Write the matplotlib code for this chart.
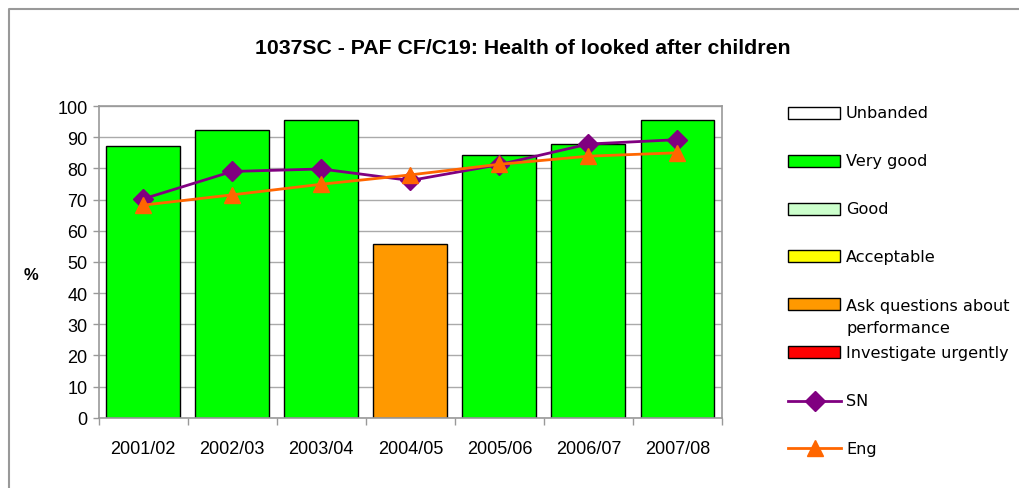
import matplotlib
matplotlib.use("Agg")
import matplotlib.pyplot as plt
from matplotlib.patches import Rectangle
from matplotlib.lines import Line2D

years = ["2001/02", "2002/03", "2003/04", "2004/05", "2005/06", "2006/07", "2007/08"]
values = [87.1, 92.2, 95.4, 55.8, 84.4, 87.7, 95.6]
bands = ["Very good", "Very good", "Very good", "Ask questions about\nperformance",
         "Very good", "Very good", "Very good"]
sn = [70.2, 79.0, 79.8, 76.1, 81.2, 87.8, 89.2]
eng = [68.2, 71.5, 74.9, 77.9, 81.3, 83.9, 85.0]

band_names = ["Unbanded", "Very good", "Good", "Acceptable",
              "Ask questions about\nperformance", "Investigate urgently"]
band_colors = ["#FFFFFF", "#00FF00", "#CCFFCC", "#FFFF00", "#FF9900", "#FF0000"]
color_of = dict(zip(band_names, band_colors))

W, H = 1020, 489
fig = plt.figure(figsize=(W / 100, H / 100), dpi=100)
fig.patch.set_facecolor("white")

def fx(px):
    return px / W

def fy(py):
    return 1 - py / H

ax = fig.add_axes([fx(98.7), fy(418.7), fx(722 - 98.7), (418.7 - 107) / H])
x = list(range(len(years)))
ax.bar(x, values, width=0.83, color=[color_of[b] for b in bands],
       edgecolor="black", linewidth=1.0, zorder=2)
ax.plot(x, sn, color="#800080", lw=2, marker="D", ms=10, zorder=3)
ax.plot(x, eng, color="#FF6600", lw=2, marker="^", ms=12, zorder=4)

ax.set_xlim(-0.5, len(years) - 0.5)
ax.set_ylim(0, 100)
ax.set_yticks(range(0, 101, 10))
ax.set_xticks(x)
ax.set_xticklabels(years)
ax.set_xticks([i + 0.5 for i in range(-1, len(years))], minor=True)
ax.tick_params(axis="x", which="major", length=0, pad=16)
ax.tick_params(axis="x", which="minor", length=5, color="#999999", width=1)
ax.tick_params(axis="y", length=4, color="#999999", width=1, pad=4)
for lab in ax.get_xticklabels() + ax.get_yticklabels():
    lab.set_fontfamily("Liberation Sans")
    lab.set_fontsize(13)
ax.grid(axis="y", color="#AAAAAA", lw=1, zorder=0)
ax.set_axisbelow(True)
for s in ax.spines.values():
    s.set_color("#999999")
    s.set_linewidth(1.2)

fig.text(fx(523), fy(48), "1037SC - PAF CF/C19: Health of looked after children",
         ha="center", va="center", fontsize=15.3, fontweight="bold",
         family="Liberation Sans")
fig.text(fx(31), fy(275), "%", ha="center", va="center", fontsize=12,
         fontweight="bold", family="Liberation Sans")

# Legend
leg_y = [113.5, 161.7, 209.5, 257.3, 305.3, 353.3]
for name, col, yy in zip(band_names, band_colors, leg_y):
    fig.add_artist(Rectangle((fx(788), fy(yy + 6)), fx(840 - 788), 12 / H,
                             facecolor=col, edgecolor="black", lw=1,
                             transform=fig.transFigure))
    if "\n" in name:
        fig.text(fx(846), fy(yy - 6), name, ha="left", va="top",
                 fontsize=11.6, family="DejaVu Sans", linespacing=1.6)
    else:
        fig.text(fx(846), fy(yy), name, ha="left", va="center",
                 fontsize=11.6, family="DejaVu Sans")
for yy, col, mk, ms, name in [(401.7, "#800080", "D", 10, "SN"),
                              (449.3, "#FF6600", "^", 12, "Eng")]:
    fig.add_artist(Line2D([fx(788), fx(841)], [fy(yy), fy(yy)], color=col, lw=2,
                          transform=fig.transFigure))
    fig.add_artist(Line2D([fx(814.5)], [fy(yy)], color=col, marker=mk, ms=ms,
                          transform=fig.transFigure))
    fig.text(fx(846), fy(yy), name, ha="left", va="center", fontsize=11.6,
             family="DejaVu Sans")

# Outer border
fig.add_artist(Line2D([fx(9), fx(9), fx(1020)], [fy(489), fy(10), fy(10)],
                      color="#999999", lw=1.5, transform=fig.transFigure))

fig.savefig("out.png", dpi=100)
